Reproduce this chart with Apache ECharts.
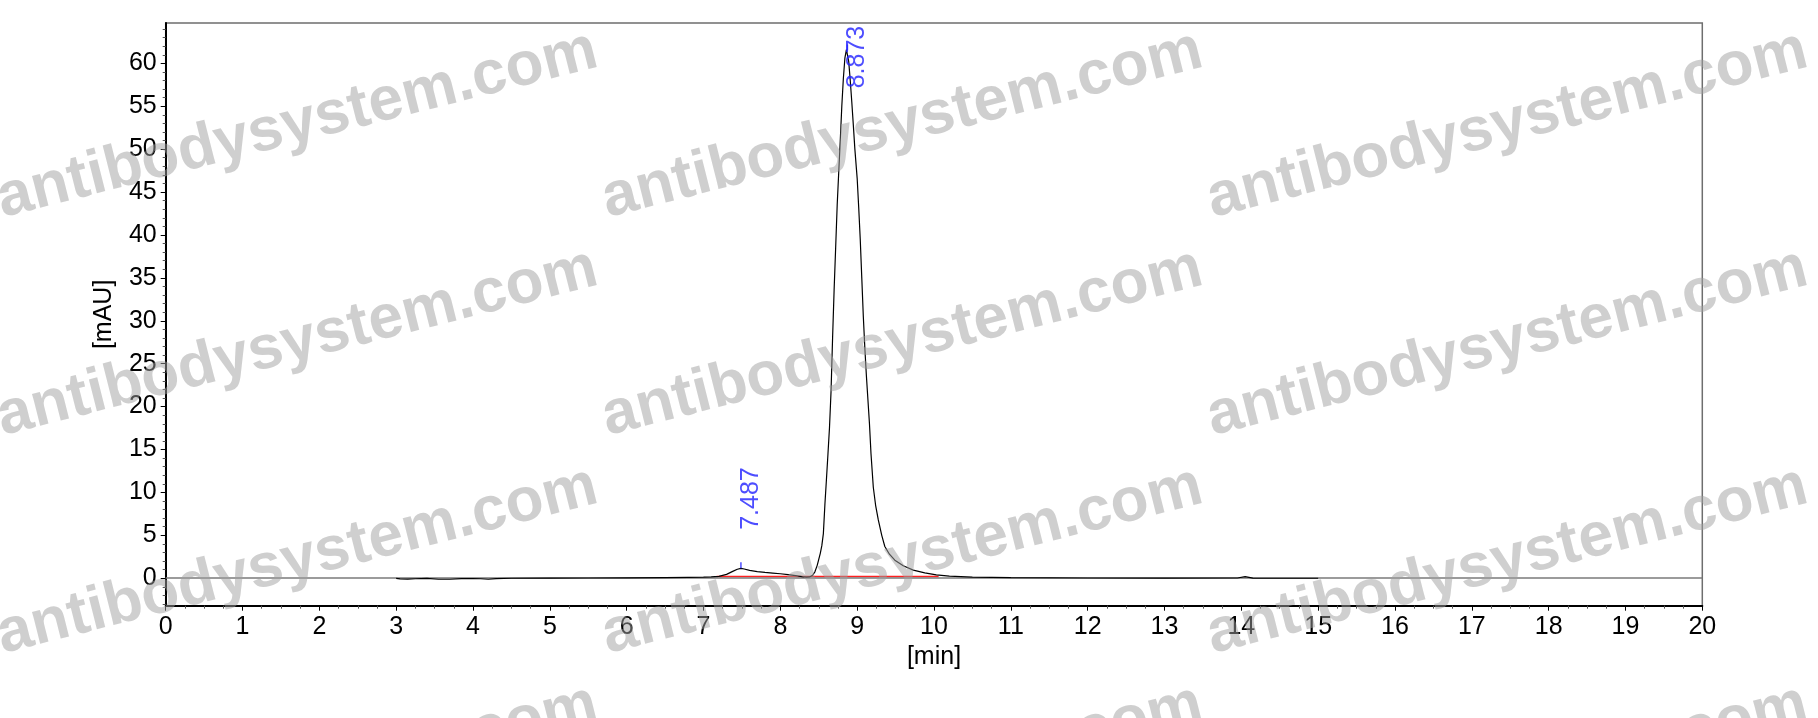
<!DOCTYPE html>
<html>
<head>
<meta charset="utf-8">
<script src="https://cdn.jsdelivr.net/npm/echarts@6/dist/echarts.min.js"></script>
<style>
html,body{margin:0;padding:0;background:#fff;}
#chart{width:1818px;height:718px;}
</style>
</head>
<body>
<div id="chart"></div>
<script>
// ---- data ----
const timeMin = [3.00,3.05,3.15,3.25,3.40,3.55,3.70,3.85,4.00,4.10,4.20,4.30,4.50,5.00,5.50,6.00,6.50,6.80,
  7.00,7.10,7.20,7.30,7.38,7.44,7.487,7.53,7.60,7.70,7.80,7.90,8.00,8.10,8.20,8.28,8.34,8.38,8.42,8.45,8.48,
  8.50,8.52,8.54,8.56,8.58,8.60,8.62,8.64,8.66,8.68,8.70,8.72,8.74,8.76,8.78,8.80,8.82,8.84,8.86,8.873,8.89,
  8.91,8.93,8.95,8.97,9.00,9.02,9.04,9.06,9.08,9.10,9.12,9.14,9.16,9.18,9.21,9.24,9.275,9.32,9.36,9.42,9.49,
  9.60,9.73,9.88,10.03,10.20,10.50,11.00,12.00,13.00,13.95,14.05,14.15,15.00];
const signalMAU = [-0.02,-0.08,-0.10,-0.06,-0.02,-0.12,-0.12,-0.04,-0.03,-0.06,-0.12,-0.04,0.00,0.02,0.03,0.05,0.08,0.10,
  0.12,0.15,0.22,0.45,0.80,1.05,1.15,1.08,0.92,0.78,0.68,0.60,0.52,0.42,0.30,0.18,0.12,0.15,0.35,0.75,1.50,
  2.20,2.90,3.80,5.20,8.60,11.5,14.5,17.6,21.8,28.0,33.6,38.5,43.5,47.3,51.0,55.0,58.2,60.6,61.6,61.5,60.2,
  58.0,55.5,52.8,50.0,46.6,43.2,39.5,35.0,30.5,26.8,23.6,20.8,18.0,14.5,10.6,8.5,6.8,5.0,3.7,2.8,2.1,
  1.45,0.95,0.62,0.40,0.25,0.12,0.06,0.03,0.02,0.03,0.18,0.02,0.00];
const baselineTime = [7.17, 10.06];
const baselineMAU = [0.20, 0.20];
const peakTimes = [7.487, 8.873];
const peakHeights = [1.15, 61.5];
const peakNames = ['7.487', '8.873'];
const yTickValues = [0,5,10,15,20,25,30,35,40,45,50,55,60];
const yMin = -3.2, yMax = 64.7;
const watermarkText = 'antibodysystem.com';

// ---- build ----
const FONT = '"Liberation Sans", Arial, sans-serif';
const trace = timeMin.map((t, i) => [t, signalMAU[i]]);
const baseLine = baselineTime.map((t, i) => [t, baselineMAU[i]]);
const yMinor = [];
for (let v = Math.ceil(yMin); v <= Math.floor(yMax); v++) { if (v % 5 !== 0) yMinor.push(v); }

const labelPos = [[10.7, -38], [10, 38.4]];
const labelData = peakTimes.map((t, i) => ({
  value: [t, peakHeights[i]],
  name: peakNames[i],
  label: { position: labelPos[i] }
}));
const markData = peakTimes.map((t, i) => [t, peakHeights[i]]);

const wmX = [3, 608, 1213];
const wmY = [219, 437, 655, 873];
const graphics = [];
wmY.forEach(y => wmX.forEach(x => {
  graphics.push({
    type: 'text', x: x, y: y, rotation: 14.2 * Math.PI / 180, z: 100, silent: true,
    style: { text: watermarkText, x: 0, y: 12, align: 'left', verticalAlign: 'bottom',
      font: 'bold 62px ' + FONT, fill: 'rgba(160,160,160,0.5)' }
  });
}));

const chart = echarts.init(document.getElementById('chart'), null, { renderer: 'canvas' });
chart.setOption({
  animation: false,
  backgroundColor: '#ffffff',
  textStyle: { fontFamily: FONT },
  graphic: graphics,
  grid: { left: 165.7, right: 115.7, top: 23, bottom: 112.3, show: true, borderColor: '#6e6e6e', borderWidth: 1.5, backgroundColor: 'transparent' },
  xAxis: {
    type: 'value', min: 0, max: 20, interval: 1,
    name: '[min]', nameLocation: 'middle', nameGap: 36,
    nameTextStyle: { fontSize: 25, color: '#000', fontFamily: FONT },
    axisLine: { show: true, onZero: false, lineStyle: { color: '#000', width: 2 } },
    axisTick: { show: true, inside: false, length: 5, lineStyle: { color: '#000', width: 1 } },
    minorTick: { show: true, splitNumber: 4, length: 3, lineStyle: { color: '#555', width: 1 } },
    axisLabel: { fontSize: 25, color: '#000', margin: 9, fontFamily: FONT },
    splitLine: { show: false }, minorSplitLine: { show: false }
  },
  yAxis: [{
    type: 'value', min: yMin, max: yMax,
    name: '[mAU]', nameLocation: 'middle', nameGap: 49, nameRotate: 90,
    nameTextStyle: { fontSize: 25, color: '#000', fontFamily: FONT },
    axisLine: { show: true, onZero: false, lineStyle: { color: '#000', width: 2 } },
    axisTick: { show: true, inside: false, length: 5, customValues: yTickValues, lineStyle: { color: '#000', width: 1 } },
    axisLabel: { fontSize: 25, color: '#000', margin: 9, customValues: yTickValues, fontFamily: FONT },
    splitLine: { show: false }
  }, {
    type: 'value', min: yMin, max: yMax, position: 'left',
    axisLine: { show: false, onZero: false },
    axisTick: { show: true, inside: false, length: 3, customValues: yMinor, lineStyle: { color: '#555', width: 1 } },
    axisLabel: { show: false, customValues: yMinor },
    splitLine: { show: false }
  }],
  series: [
    {
      type: 'line', name: 'trace', data: trace, showSymbol: false, symbol: 'none', z: 5,
      lineStyle: { color: '#000', width: 1.2 },
      markLine: {
        silent: true, symbol: 'none', label: { show: false },
        lineStyle: { color: '#7a7a7a', width: 1.5, type: 'solid' },
        data: [{ yAxis: 0 }]
      }
    },
    {
      type: 'line', name: 'baseline', data: baseLine, showSymbol: false, symbol: 'none', z: 4,
      lineStyle: { color: '#ff2020', width: 1.5 }
    },
    {
      type: 'scatter', name: 'ticks', data: markData, symbol: 'rect', symbolSize: [1.5, 6], symbolOffset: [0, -3],
      itemStyle: { color: '#2020ff' }, z: 6
    },
    {
      type: 'scatter', name: 'labels', data: labelData, symbolSize: 1, itemStyle: { color: 'rgba(0,0,0,0)' }, z: 7,
      label: { show: true, formatter: p => p.name, rotate: 90, align: 'left', verticalAlign: 'middle',
        fontSize: 25, color: '#2020ff', fontFamily: FONT }
    }
  ]
});
</script>
</body>
</html>
